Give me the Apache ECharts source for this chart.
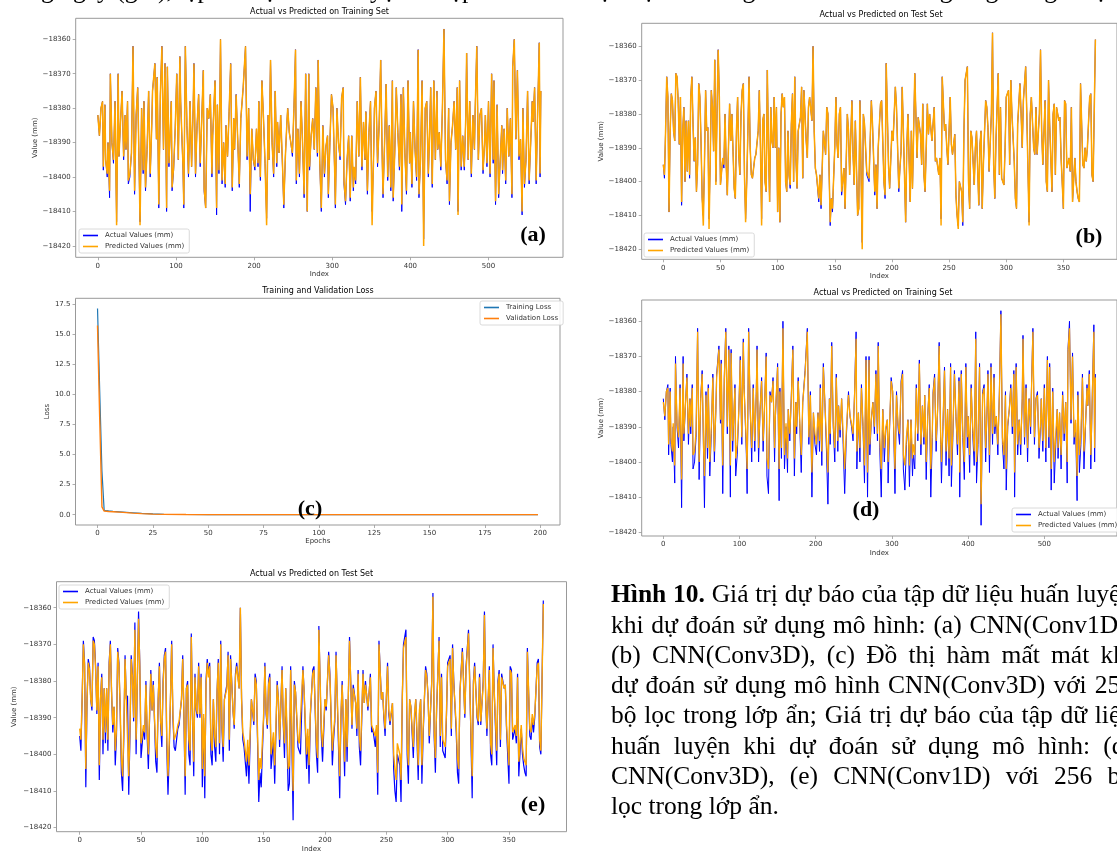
<!DOCTYPE html>
<html>
<head>
<meta charset="utf-8">
<title>Hình 10</title>
<script src="https://cdn.jsdelivr.net/npm/echarts@6/dist/echarts.min.js"></script>
<style>
html, body { margin: 0; padding: 0; background: #fff; }
#fig { width: 1117px; height: 855px; }
</style>
</head>
<body>
<div id="fig"></div>
<script>
// ---- training set (panels a, d) ----
const trainIdx = [
  0,2,4,6,7,9,10,12,13,15,16,18,20,22,24,26,27,29,31,33,
  35,36,38,39,41,43,45,47,49,51,53,54,56,58,59,61,63,65,67,69,
  70,73,75,76,78,80,82,84,86,88,89,91,94,95,97,99,101,103,105,106,
  109,110,112,114,116,118,120,122,123,125,127,129,131,133,135,136,138,140,142,144,
  146,147,150,152,153,155,157,159,161,163,164,166,168,170,172,174,175,177,179,181,
  183,186,188,189,191,193,195,197,199,201,203,205,206,208,210,212,214,216,218,219,
  221,223,225,227,229,230,232,234,236,238,240,242,243,245,247,249,251,253,254,256,
  258,260,262,264,266,268,270,271,273,275,277,279,281,282,284,286,288,290,292,294,
  295,297,299,301,303,304,306,308,310,312,314,315,317,319,321,323,325,327,328,330,
  332,334,336,338,340,342,343,345,347,349,351,353,354,356,358,360,362,364,365,367,
  369,371,373,375,377,378,380,382,384,386,388,389,391,393,395,397,399,400,402,404,
  406,408,410,411,413,415,417,419,421,423,425,426,428,430,432,434,435,437,439,441,
  443,445,447,449,450,452,454,456,458,460,461,463,465,467,469,471,472,474,476,478,
  480,482,483,485,487,489,491,493,495,496,498,500,502,504,506,507,509,511,513,515,
  517,518,520,522,524,526,528,530,531,533,535,537,539,541,543,544,546,548,550,552,
  554,556,557,559,561,563,565,566,567
]
const trainActual = [
  -18382,-18388,-18380,-18378,-18398,-18379,-18395,-18400,-18390,-18406,-18370,-18390,-18396,-18378,-18413,-18370,-18394,-18384,-18375,-18395,
  -18382,-18392,-18378,-18402,-18400,-18393,-18362,-18405,-18382,-18374,-18400,-18413,-18380,-18399,-18378,-18404,-18392,-18375,-18400,-18385,
  -18375,-18367,-18389,-18371,-18409,-18376,-18362,-18392,-18367,-18410,-18368,-18397,-18378,-18404,-18398,-18386,-18370,-18395,-18365,-18378,
  -18398,-18409,-18362,-18385,-18400,-18378,-18397,-18380,-18367,-18400,-18385,-18376,-18397,-18383,-18369,-18404,-18409,-18380,-18383,-18376,
  -18400,-18388,-18372,-18411,-18379,-18399,-18360,-18402,-18390,-18403,-18385,-18394,-18381,-18367,-18404,-18383,-18392,-18376,-18389,-18403,
  -18383,-18374,-18366,-18362,-18395,-18380,-18410,-18386,-18395,-18398,-18386,-18397,-18378,-18401,-18372,-18383,-18396,-18412,-18382,-18395,
  -18366,-18390,-18400,-18375,-18397,-18384,-18393,-18382,-18395,-18409,-18394,-18384,-18380,-18387,-18390,-18394,-18380,-18363,-18402,-18386,
  -18400,-18378,-18390,-18406,-18370,-18410,-18370,-18398,-18388,-18383,-18392,-18374,-18394,-18366,-18396,-18410,-18385,-18400,-18391,-18388,
  -18406,-18390,-18376,-18380,-18398,-18409,-18380,-18390,-18395,-18377,-18374,-18402,-18408,-18395,-18388,-18407,-18388,-18404,-18398,-18402,
  -18378,-18394,-18371,-18398,-18384,-18395,-18381,-18405,-18387,-18378,-18410,-18393,-18380,-18375,-18397,-18385,-18366,-18395,-18406,-18390,
  -18373,-18401,-18385,-18404,-18372,-18407,-18393,-18374,-18387,-18398,-18376,-18410,-18374,-18393,-18405,-18372,-18396,-18387,-18403,-18378,
  -18392,-18401,-18363,-18406,-18395,-18372,-18418,-18380,-18378,-18400,-18384,-18374,-18403,-18372,-18395,-18375,-18392,-18387,-18398,-18380,
  -18357,-18395,-18402,-18380,-18408,-18390,-18385,-18378,-18392,-18374,-18410,-18372,-18398,-18388,-18398,-18382,-18364,-18395,-18378,-18400,
  -18382,-18392,-18380,-18362,-18395,-18382,-18380,-18399,-18390,-18382,-18397,-18378,-18400,-18370,-18396,-18372,-18408,-18379,-18406,-18395,
  -18385,-18399,-18386,-18402,-18380,-18394,-18383,-18406,-18368,-18360,-18389,-18369,-18395,-18389,-18411,-18380,-18403,-18395,-18375,-18402,
  -18390,-18378,-18384,-18374,-18402,-18380,-18361,-18400,-18375
]
// (a) CNN(Conv1D) prediction
const trainPredA = [
  -18382,-18388,-18380,-18378,-18397,-18379,-18395,-18399,-18390,-18404,-18370,-18390,-18395,-18378,-18414,-18370,-18394,-18384,-18375,-18394,
  -18382,-18392,-18378,-18401,-18399,-18393,-18362,-18404,-18382,-18374,-18399,-18414,-18380,-18398,-18378,-18403,-18392,-18375,-18399,-18385,
  -18375,-18367,-18389,-18371,-18408,-18376,-18362,-18392,-18367,-18409,-18368,-18396,-18378,-18403,-18397,-18386,-18370,-18395,-18365,-18378,
  -18397,-18408,-18362,-18385,-18399,-18378,-18397,-18380,-18367,-18399,-18385,-18376,-18396,-18383,-18369,-18403,-18409,-18380,-18383,-18376,
  -18399,-18388,-18372,-18409,-18379,-18398,-18360,-18401,-18390,-18402,-18385,-18394,-18381,-18367,-18403,-18383,-18392,-18376,-18389,-18402,
  -18383,-18374,-18366,-18362,-18394,-18380,-18405,-18386,-18395,-18397,-18386,-18396,-18378,-18400,-18372,-18383,-18396,-18414,-18382,-18395,
  -18366,-18390,-18399,-18375,-18396,-18384,-18393,-18382,-18394,-18408,-18394,-18384,-18380,-18387,-18390,-18393,-18380,-18363,-18401,-18386,
  -18399,-18378,-18390,-18405,-18370,-18410,-18370,-18397,-18388,-18383,-18392,-18374,-18393,-18366,-18395,-18409,-18385,-18399,-18391,-18388,
  -18405,-18390,-18376,-18380,-18397,-18408,-18380,-18390,-18394,-18377,-18374,-18401,-18407,-18395,-18388,-18406,-18388,-18403,-18397,-18401,
  -18378,-18394,-18371,-18397,-18384,-18395,-18381,-18404,-18387,-18378,-18414,-18393,-18380,-18375,-18396,-18385,-18366,-18395,-18405,-18390,
  -18373,-18400,-18385,-18403,-18372,-18406,-18393,-18374,-18387,-18397,-18376,-18408,-18374,-18393,-18404,-18372,-18396,-18387,-18402,-18378,
  -18392,-18400,-18363,-18405,-18395,-18372,-18420,-18380,-18378,-18399,-18384,-18374,-18402,-18372,-18395,-18375,-18392,-18387,-18397,-18380,
  -18357,-18395,-18401,-18380,-18407,-18390,-18385,-18378,-18392,-18374,-18411,-18372,-18397,-18388,-18397,-18382,-18364,-18395,-18378,-18399,
  -18382,-18392,-18380,-18362,-18395,-18382,-18380,-18398,-18390,-18382,-18396,-18378,-18399,-18370,-18395,-18372,-18407,-18379,-18405,-18395,
  -18385,-18398,-18386,-18401,-18380,-18394,-18383,-18405,-18368,-18360,-18389,-18369,-18394,-18389,-18410,-18380,-18402,-18395,-18375,-18401,
  -18390,-18378,-18384,-18374,-18401,-18380,-18361,-18399,-18375
]
// (d) CNN(Conv3D) prediction
const trainPredD = [
  -18383,-18387,-18380,-18379,-18395,-18380,-18393,-18397,-18389,-18401,-18372,-18389,-18393,-18379,-18405,-18372,-18392,-18384,-18376,-18392,
  -18382,-18390,-18379,-18398,-18397,-18391,-18363,-18400,-18383,-18375,-18397,-18404,-18381,-18396,-18379,-18400,-18390,-18376,-18397,-18385,
  -18376,-18368,-18388,-18372,-18401,-18377,-18363,-18390,-18368,-18401,-18369,-18394,-18379,-18399,-18395,-18386,-18371,-18393,-18366,-18379,
  -18395,-18402,-18363,-18385,-18396,-18379,-18394,-18381,-18368,-18396,-18385,-18377,-18394,-18383,-18370,-18399,-18402,-18381,-18383,-18377,
  -18396,-18387,-18373,-18402,-18380,-18396,-18362,-18398,-18389,-18399,-18385,-18392,-18382,-18368,-18399,-18383,-18390,-18377,-18388,-18398,
  -18383,-18375,-18367,-18363,-18393,-18381,-18403,-18386,-18392,-18395,-18386,-18394,-18379,-18397,-18373,-18383,-18393,-18403,-18382,-18392,
  -18367,-18389,-18396,-18376,-18394,-18384,-18391,-18382,-18392,-18402,-18392,-18384,-18381,-18387,-18389,-18392,-18381,-18365,-18397,-18386,
  -18396,-18379,-18389,-18401,-18371,-18403,-18371,-18395,-18388,-18383,-18390,-18375,-18392,-18367,-18393,-18402,-18385,-18396,-18390,-18388,
  -18400,-18389,-18377,-18380,-18395,-18402,-18381,-18389,-18392,-18378,-18375,-18398,-18401,-18393,-18388,-18401,-18388,-18399,-18395,-18398,
  -18379,-18392,-18372,-18395,-18384,-18393,-18381,-18400,-18387,-18379,-18402,-18391,-18381,-18376,-18394,-18385,-18367,-18393,-18400,-18389,
  -18374,-18397,-18385,-18399,-18373,-18401,-18391,-18375,-18387,-18395,-18377,-18403,-18375,-18391,-18400,-18373,-18393,-18387,-18398,-18379,
  -18390,-18397,-18365,-18400,-18393,-18373,-18412,-18381,-18379,-18396,-18384,-18375,-18398,-18373,-18392,-18376,-18390,-18387,-18395,-18381,
  -18358,-18393,-18398,-18381,-18402,-18389,-18385,-18379,-18390,-18375,-18403,-18373,-18395,-18388,-18395,-18382,-18365,-18393,-18379,-18396,
  -18382,-18390,-18381,-18363,-18393,-18382,-18381,-18396,-18389,-18382,-18394,-18379,-18396,-18371,-18393,-18373,-18402,-18380,-18400,-18392,
  -18385,-18396,-18386,-18398,-18381,-18392,-18383,-18400,-18369,-18362,-18388,-18370,-18393,-18388,-18404,-18381,-18398,-18392,-18376,-18397,
  -18389,-18379,-18384,-18375,-18398,-18381,-18363,-18396,-18376
]

// ---- test set (panels b, e) ----
const testIdx = [
  0,1,2,3,4,5,6,7,8,9,10,11,12,13,14,15,16,17,18,19,
  20,21,22,23,24,25,26,27,28,29,30,31,32,33,34,35,36,37,38,39,
  40,41,42,43,44,45,46,47,48,49,50,51,52,53,54,55,56,57,58,59,
  60,61,62,63,64,65,66,67,68,69,70,71,72,73,74,75,76,77,78,79,
  80,81,82,83,84,85,86,87,88,89,90,91,92,93,94,95,96,97,98,99,
  100,101,102,103,104,105,106,107,108,109,110,111,112,113,114,115,116,117,118,120,
  121,122,123,125,126,127,128,130,131,132,133,134,136,137,138,139,140,142,143,144,
  146,147,148,149,150,151,152,153,154,155,156,158,159,161,162,163,165,166,167,168,
  170,171,172,174,175,176,178,179,180,182,183,185,186,187,188,190,191,193,194,195,
  197,198,200,201,203,204,206,207,208,209,211,212,213,214,216,217,218,220,221,222,
  223,225,226,227,228,229,231,232,233,235,237,238,239,241,242,243,244,246,247,248,
  249,251,252,253,255,256,257,258,259,261,262,263,264,266,267,268,269,270,272,273,
  274,276,277,278,279,280,282,283,284,285,287,288,289,290,291,293,294,295,296,298,
  299,300,302,303,304,305,307,308,309,310,312,313,314,315,316,317,318,320,321,322,
  324,325,326,327,329,330,331,332,334,335,336,337,338,340,341,342,343,344,346,347,
  348,350,351,352,353,355,356,357,358,360,361,362,363,364,365,367,368,369,370,371,
  373,374,375,376,378
]
const testActual = [
  -18395,-18399,-18385,-18369,-18375,-18409,-18385,-18374,-18376,-18385,-18388,-18368,-18369,-18376,-18389,-18375,-18407,-18385,-18378,-18400,
  -18382,-18397,-18382,-18399,-18375,-18369,-18383,-18394,-18387,-18403,-18395,-18371,-18375,-18388,-18405,-18410,-18395,-18373,-18385,-18384,
  -18411,-18395,-18373,-18378,-18391,-18364,-18400,-18380,-18361,-18375,-18401,-18397,-18393,-18396,-18380,-18395,-18404,-18390,-18377,-18388,
  -18380,-18391,-18402,-18405,-18385,-18375,-18392,-18398,-18380,-18373,-18371,-18398,-18411,-18400,-18385,-18369,-18390,-18398,-18399,-18396,
  -18393,-18392,-18392,-18385,-18373,-18390,-18411,-18382,-18380,-18400,-18403,-18367,-18390,-18406,-18378,-18388,-18390,-18375,-18390,-18378,
  -18409,-18390,-18412,-18380,-18374,-18378,-18375,-18400,-18403,-18385,-18398,-18402,-18383,-18374,-18400,-18369,-18393,-18402,-18385,-18381,
  -18372,-18399,-18373,-18388,-18393,-18378,-18375,-18382,-18360,-18385,-18396,-18398,-18406,-18398,-18408,-18396,-18385,-18392,-18378,-18380,
  -18413,-18405,-18409,-18399,-18390,-18375,-18389,-18393,-18380,-18378,-18404,-18396,-18408,-18380,-18385,-18398,-18376,-18392,-18401,-18382,
  -18410,-18408,-18376,-18418,-18380,-18383,-18398,-18399,-18400,-18376,-18383,-18404,-18395,-18408,-18390,-18377,-18376,-18400,-18405,-18365,
  -18395,-18402,-18385,-18388,-18372,-18378,-18403,-18396,-18391,-18372,-18398,-18412,-18390,-18380,-18406,-18385,-18402,-18368,-18368,-18393,
  -18381,-18386,-18395,-18377,-18398,-18403,-18377,-18386,-18380,-18388,-18378,-18394,-18393,-18398,-18393,-18411,-18369,-18385,-18383,-18390,
  -18395,-18375,-18389,-18392,-18386,-18404,-18410,-18413,-18400,-18403,-18413,-18385,-18370,-18366,-18400,-18408,-18385,-18387,-18401,-18390,
  -18385,-18407,-18389,-18385,-18408,-18395,-18376,-18378,-18384,-18397,-18380,-18356,-18395,-18405,-18388,-18368,-18398,-18378,-18399,-18401,
  -18390,-18375,-18373,-18395,-18370,-18380,-18394,-18405,-18408,-18383,-18371,-18380,-18390,-18376,-18376,-18366,-18380,-18412,-18380,-18375,
  -18390,-18392,-18378,-18392,-18380,-18361,-18385,-18395,-18376,-18400,-18403,-18370,-18383,-18403,-18380,-18377,-18398,-18378,-18382,-18381,
  -18393,-18408,-18376,-18377,-18396,-18393,-18397,-18378,-18406,-18393,-18400,-18403,-18405,-18406,-18371,-18395,-18396,-18390,-18394,-18390,
  -18375,-18374,-18398,-18400,-18358
]
// (b) CNN(Conv3D) prediction
const testPredB = [
  -18395,-18398,-18385,-18369,-18375,-18409,-18385,-18374,-18376,-18385,-18388,-18368,-18369,-18376,-18389,-18375,-18406,-18385,-18378,-18400,
  -18382,-18397,-18382,-18398,-18375,-18369,-18383,-18394,-18387,-18403,-18395,-18371,-18375,-18388,-18405,-18413,-18395,-18373,-18385,-18384,
  -18414,-18395,-18373,-18378,-18391,-18364,-18401,-18380,-18361,-18375,-18401,-18397,-18393,-18395,-18380,-18395,-18404,-18390,-18377,-18388,
  -18380,-18391,-18402,-18405,-18385,-18375,-18392,-18398,-18380,-18373,-18371,-18398,-18412,-18400,-18385,-18369,-18390,-18398,-18399,-18396,
  -18393,-18392,-18392,-18385,-18373,-18390,-18413,-18382,-18380,-18400,-18403,-18367,-18390,-18406,-18378,-18388,-18390,-18375,-18390,-18378,
  -18409,-18390,-18412,-18380,-18374,-18378,-18375,-18400,-18403,-18385,-18398,-18401,-18383,-18374,-18400,-18369,-18393,-18402,-18385,-18381,
  -18372,-18399,-18373,-18388,-18393,-18378,-18375,-18382,-18360,-18385,-18396,-18398,-18405,-18398,-18407,-18396,-18385,-18392,-18378,-18380,
  -18412,-18405,-18408,-18399,-18390,-18375,-18389,-18393,-18380,-18378,-18403,-18396,-18408,-18380,-18385,-18398,-18376,-18392,-18401,-18382,
  -18410,-18408,-18376,-18420,-18380,-18383,-18397,-18398,-18399,-18376,-18383,-18403,-18395,-18408,-18390,-18377,-18376,-18400,-18404,-18365,
  -18395,-18402,-18385,-18388,-18372,-18378,-18402,-18396,-18391,-18372,-18398,-18412,-18390,-18380,-18406,-18385,-18402,-18368,-18368,-18393,
  -18381,-18386,-18395,-18377,-18398,-18403,-18377,-18386,-18380,-18388,-18378,-18394,-18393,-18398,-18393,-18413,-18369,-18385,-18383,-18390,
  -18395,-18375,-18389,-18392,-18386,-18404,-18410,-18414,-18400,-18403,-18412,-18385,-18370,-18366,-18400,-18408,-18385,-18387,-18401,-18390,
  -18385,-18407,-18389,-18385,-18408,-18395,-18376,-18378,-18384,-18397,-18380,-18356,-18395,-18405,-18388,-18368,-18398,-18378,-18399,-18401,
  -18390,-18375,-18373,-18395,-18370,-18380,-18394,-18405,-18408,-18383,-18371,-18380,-18390,-18376,-18376,-18366,-18380,-18413,-18380,-18375,
  -18390,-18392,-18378,-18392,-18380,-18361,-18385,-18395,-18376,-18400,-18403,-18370,-18383,-18403,-18380,-18377,-18398,-18378,-18382,-18381,
  -18393,-18408,-18376,-18377,-18396,-18393,-18397,-18378,-18406,-18393,-18400,-18403,-18405,-18406,-18371,-18395,-18396,-18390,-18394,-18390,
  -18375,-18374,-18398,-18400,-18358
]
// (e) CNN(Conv1D) prediction
const testPredE = [
  -18393,-18396,-18385,-18370,-18376,-18404,-18385,-18375,-18377,-18385,-18387,-18369,-18370,-18377,-18388,-18376,-18403,-18385,-18379,-18396,
  -18382,-18394,-18382,-18396,-18376,-18370,-18383,-18392,-18387,-18399,-18393,-18372,-18376,-18387,-18401,-18406,-18393,-18374,-18385,-18385,
  -18406,-18393,-18374,-18379,-18390,-18366,-18396,-18380,-18363,-18376,-18397,-18395,-18392,-18394,-18381,-18393,-18400,-18389,-18378,-18388,
  -18381,-18390,-18398,-18401,-18385,-18376,-18391,-18395,-18381,-18374,-18372,-18395,-18406,-18397,-18385,-18370,-18389,-18396,-18396,-18394,
  -18392,-18391,-18391,-18385,-18374,-18389,-18406,-18382,-18381,-18396,-18399,-18368,-18389,-18402,-18379,-18387,-18389,-18376,-18389,-18379,
  -18404,-18389,-18406,-18381,-18375,-18379,-18376,-18396,-18399,-18385,-18395,-18398,-18383,-18375,-18397,-18370,-18392,-18398,-18385,-18382,
  -18373,-18396,-18374,-18388,-18392,-18379,-18376,-18382,-18360,-18385,-18394,-18396,-18402,-18396,-18403,-18394,-18385,-18391,-18379,-18381,
  -18407,-18401,-18404,-18396,-18389,-18376,-18388,-18392,-18381,-18379,-18400,-18394,-18403,-18381,-18385,-18396,-18377,-18391,-18397,-18382,
  -18404,-18403,-18377,-18410,-18381,-18383,-18396,-18397,-18397,-18377,-18383,-18400,-18393,-18403,-18389,-18378,-18377,-18397,-18401,-18366,
  -18393,-18398,-18385,-18387,-18373,-18379,-18399,-18394,-18390,-18373,-18395,-18406,-18389,-18381,-18402,-18385,-18398,-18369,-18369,-18392,
  -18382,-18386,-18393,-18378,-18395,-18399,-18378,-18386,-18381,-18387,-18379,-18392,-18392,-18395,-18392,-18405,-18370,-18385,-18383,-18389,
  -18393,-18376,-18388,-18391,-18386,-18400,-18404,-18407,-18397,-18400,-18407,-18385,-18371,-18368,-18397,-18403,-18385,-18387,-18398,-18389,
  -18385,-18403,-18388,-18385,-18403,-18393,-18377,-18379,-18384,-18395,-18381,-18357,-18393,-18401,-18387,-18369,-18395,-18379,-18396,-18398,
  -18389,-18376,-18374,-18393,-18371,-18381,-18392,-18401,-18404,-18383,-18372,-18381,-18389,-18377,-18377,-18367,-18381,-18406,-18381,-18376,
  -18389,-18391,-18379,-18391,-18381,-18362,-18385,-18393,-18377,-18397,-18400,-18371,-18383,-18399,-18381,-18378,-18396,-18379,-18382,-18381,
  -18392,-18403,-18377,-18378,-18394,-18392,-18395,-18379,-18402,-18392,-18398,-18401,-18402,-18403,-18372,-18393,-18394,-18389,-18392,-18389,
  -18376,-18375,-18396,-18399,-18359
]

// ---- loss curves (panel c) ----
const lossEpochs = [0, 1, 2, 3, 4, 5, 7, 10, 13, 16, 20, 25, 30, 40, 50, 75, 100, 125, 150, 175, 199]
const trainLoss = [17.1, 10.2, 3.6, 0.36, 0.33, 0.31, 0.28, 0.24, 0.2, 0.16, 0.11, 0.06, 0.03, 0.015, 0.01, 0.006, 0.005, 0.004, 0.004, 0.003, 0.003]
const valLoss = [15.7, 7.9, 0.65, 0.3, 0.29, 0.27, 0.25, 0.21, 0.17, 0.13, 0.09, 0.05, 0.025, 0.012, 0.008, 0.005, 0.004, 0.004, 0.003, 0.003, 0.003]

// ---- tick labels ----
const indexTicks = [0, 100, 200, 300, 400, 500]
const testTicks = [0, 50, 100, 150, 200, 250, 300, 350]
const valueTicks = [-18420, -18410, -18400, -18390, -18380, -18370, -18360]
const epochTicks = [0, 25, 50, 75, 100, 125, 150, 175, 200]
const lossTicks = [0, 2.5, 5, 7.5, 10, 12.5, 15, 17.5]

// ---- caption ----
const captionLines = [
  'Hình 10. Giá trị dự báo của tập dữ liệu huấn luyện',
  'khi dự đoán sử dụng mô hình: (a) CNN(Conv1D),',
  '(b) CNN(Conv3D), (c) Đồ thị hàm mất mát khi',
  'dự đoán sử dụng mô hình CNN(Conv3D) với 256',
  'bộ lọc trong lớp ẩn; Giá trị dự báo của tập dữ liệu',
  'huấn luyện khi dự đoán sử dụng mô hình: (d)',
  'CNN(Conv3D), (e) CNN(Conv1D) với 256 bộ',
  'lọc trong lớp ẩn.'
]
const topLine = 'trong ngày (giờ), tập dữ liệu huấn luyện và tập kiểm tra được dự báo bằng các mô hình tương ứng với giá trị thực'

const AXIS = '#999'
const TXT = '#333'
const FONT = 'DejaVu Sans'
const SERIF = 'Liberation Serif'

const zip = (xs, ys) => xs.map((x, i) => [x, ys[i]])
const minus = v => String(v).replace('-', '\u2212')

function axis(grid, min, max, ticks, name, gap, fmt) {
  return {
    type: 'value', gridIndex: grid, min: min, max: max,
    name: name, nameLocation: 'middle', nameGap: gap,
    nameTextStyle: { fontSize: 7, color: TXT, fontFamily: FONT },
    axisLine: { show: false, onZero: false },
    axisTick: { show: true, customValues: ticks, length: 3, lineStyle: { color: AXIS, width: 0.8 } },
    axisLabel: { customValues: ticks, fontSize: 7, color: TXT, fontFamily: FONT, margin: 5, formatter: fmt || minus },
    splitLine: { show: false }
  }
}

function line(name, grid, data, color, width, z) {
  return {
    type: 'line', name: name, xAxisIndex: grid, yAxisIndex: grid, data: data,
    showSymbol: false, symbol: 'none', silent: true, z: z,
    itemStyle: { color: color },
    lineStyle: { color: color, width: width }
  }
}

function legend(left, top, names) {
  return {
    left: left, top: top, orient: 'vertical', data: names, selectedMode: false,
    icon: 'rect', itemWidth: 15, itemHeight: 1.6, itemGap: 4,
    padding: [3, 5, 3, 4], borderColor: '#d0d0d0', borderWidth: 0.8, borderRadius: 2,
    backgroundColor: 'rgba(255,255,255,0.85)',
    textStyle: { fontSize: 7, color: TXT, fontFamily: FONT, padding: [0, 0, 0, 2] }
  }
}

function label(text, x, y, size, weight, family, align) {
  return {
    type: 'text', x: x, y: y, silent: true, z: 100,
    style: {
      text: text, fill: '#000', fontSize: size, fontWeight: weight || 'normal',
      fontFamily: family || SERIF, align: align || 'center', verticalAlign: 'middle'
    }
  }
}

const ACT = 'Actual Values (mm)'
const PRED = 'Predicted Values (mm)'
const BLUE = '#0000ff'
const ORANGE = '#ffa500'

// caption words, justified to the column width like the printed page
const measure = document.createElement('canvas').getContext('2d')
const CAP_SIZE = 25.5
const CAP_X = 611
const CAP_W = 522
const captionGraphics = []
captionLines.forEach((ln, li) => {
  const words = ln.split(' ')
  const bold = words.map((w, wi) => li === 0 && wi < 2)
  const widths = words.map((w, wi) => {
    measure.font = (bold[wi] ? 'bold ' : '') + CAP_SIZE + 'px "' + SERIF + '"'
    return measure.measureText(w).width
  })
  measure.font = CAP_SIZE + 'px "' + SERIF + '"'
  const space = measure.measureText(' ').width
  const total = widths.reduce((a, b) => a + b, 0)
  let gap = space
  if (li < captionLines.length - 1 && words.length > 1) {
    gap = Math.max(space, (CAP_W - total) / (words.length - 1))
  }
  let x = CAP_X
  const y = 595.5 + li * 30.3
  words.forEach((w, wi) => {
    captionGraphics.push(label(w, x, y, CAP_SIZE, bold[wi] ? 'bold' : 'normal', SERIF, 'left'))
    x += widths[wi] + gap
  })
})

const option = {
  animation: false,
  backgroundColor: '#fff',
  textStyle: { fontFamily: FONT },
  grid: [
    { left: 75.7, top: 18.3, width: 487.3, height: 239, show: true, borderColor: AXIS, borderWidth: 1 },
    { left: 641.7, top: 23.3, width: 478.3, height: 236, show: true, borderColor: AXIS, borderWidth: 1 },
    { left: 75.5, top: 298.3, width: 484.5, height: 226.7, show: true, borderColor: AXIS, borderWidth: 1 },
    { left: 641.7, top: 300, width: 483, height: 236, show: true, borderColor: AXIS, borderWidth: 1 },
    { left: 56.5, top: 581.7, width: 510, height: 250, show: true, borderColor: AXIS, borderWidth: 1 }
  ],
  xAxis: [
    axis(0, -28.35, 595.35, indexTicks, 'Index', 13),
    axis(1, -18.9, 396.9, testTicks, 'Index', 13),
    axis(2, -9.95, 208.95, epochTicks, 'Epochs', 13),
    axis(3, -28.35, 595.35, indexTicks, 'Index', 14),
    axis(4, -18.9, 396.9, testTicks, 'Index', 14)
  ],
  yAxis: [
    axis(0, -18423.3, -18353.9, valueTicks, 'Value (mm)', 36),
    axis(1, -18422.96, -18353.2, valueTicks, 'Value (mm)', 36),
    axis(2, -0.855, 17.955, lossTicks, 'Loss', 23, v => v.toFixed(1)),
    axis(3, -18421.05, -18353.95, valueTicks, 'Value (mm)', 36),
    axis(4, -18421.1, -18352.9, valueTicks, 'Value (mm)', 39)
  ],
  legend: [
    legend(79, 229, [ACT, PRED]),
    legend(644, 233, [ACT, PRED]),
    legend(480, 301, ['Training Loss', 'Validation Loss']),
    legend(1012, 508, [ACT, PRED]),
    legend(59, 585, [ACT, PRED])
  ],
  series: [
    line(ACT, 0, zip(trainIdx, trainActual), BLUE, 1, 2),
    line(PRED, 0, zip(trainIdx, trainPredA), ORANGE, 1.5, 3),
    line(ACT, 1, zip(testIdx, testActual), BLUE, 1, 2),
    line(PRED, 1, zip(testIdx, testPredB), ORANGE, 1.5, 3),
    line('Training Loss', 2, zip(lossEpochs, trainLoss), '#1f77b4', 1.2, 2),
    line('Validation Loss', 2, zip(lossEpochs, valLoss), '#ff7f0e', 1.4, 3),
    line(ACT, 3, zip(trainIdx, trainActual), BLUE, 1, 2),
    line(PRED, 3, zip(trainIdx, trainPredD), ORANGE, 1.3, 3),
    line(ACT, 4, zip(testIdx, testActual), BLUE, 1.2, 2),
    line(PRED, 4, zip(testIdx, testPredE), ORANGE, 1.4, 3)
  ],
  graphic: [
    label('Actual vs Predicted on Training Set', 319.5, 11.7, 8, 'normal', FONT),
    label('Actual vs Predicted on Test Set', 881, 15.3, 8, 'normal', FONT),
    label('Training and Validation Loss', 318, 291, 8, 'normal', FONT),
    label('Actual vs Predicted on Training Set', 883, 292.7, 8, 'normal', FONT),
    label('Actual vs Predicted on Test Set', 311.5, 574, 8, 'normal', FONT),
    label('(a)', 533, 235, 22, 'bold'),
    label('(b)', 1089, 237, 22, 'bold'),
    label('(c)', 310, 509, 22, 'bold'),
    label('(d)', 866, 510, 22, 'bold'),
    label('(e)', 533, 805, 22, 'bold'),
    label(topLine, 0, -8.5, CAP_SIZE, 'normal', SERIF, 'left')
  ].concat(captionGraphics)
}

const chart = echarts.init(document.getElementById('fig'))
chart.setOption(option)
</script>
</body>
</html>
